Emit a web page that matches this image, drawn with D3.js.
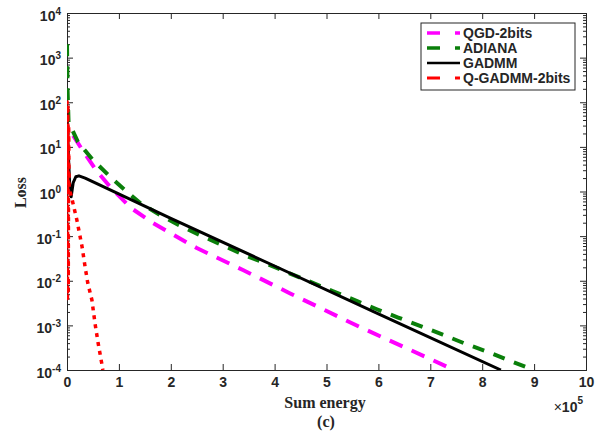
<!DOCTYPE html>
<html>
<head>
<meta charset="utf-8">
<script src="https://cdn.jsdelivr.net/npm/d3@7/dist/d3.min.js"></script>
<style>
  body { margin: 0; background: #fff; }
  svg text { fill: #262626; }
  .tick text { font-family: "Liberation Sans", Arial, sans-serif; font-weight: bold; font-size: 14px; }
  .axis path, .axis line { stroke: #262626; }
</style>
</head>
<body>
<div id="vis"></div>
<script>
// energy values (raw units, axis shows x1e5)
var qgdEnergy = [0.12e5, 0.27e5, 0.56e5, 0.85e5, 1.23e5, 1.66e5, 2.50e5, 3.39e5, 4.30e5, 5.65e5, 7.05e5, 7.46e5];
var qgdLoss = [17.8, 9.5, 3.0, 1.2, 0.43, 0.195, 0.054, 0.0174, 0.0052, 9.1e-4, 1.66e-4, 1.0e-4];

var adianaEnergy = [0, 0.01e5, 0.03e5, 0.21e5, 0.50e5, 0.83e5, 1.12e5, 1.41e5, 1.83e5, 2.22e5, 2.62e5, 3.05e5,
                    3.43e5, 3.85e5, 4.30e5, 5.13e5, 5.59e5, 5.97e5, 6.38e5, 6.80e5, 7.24e5, 7.67e5, 8.09e5, 8.54e5, 9.0e5];
var adianaLoss = [2000, 200, 36, 12.9, 5.1, 2.14, 1.07, 0.55, 0.28, 0.162, 0.098, 0.059,
                  0.037, 0.024, 0.0145, 0.0058, 0.0035, 0.0023, 0.0015, 9.8e-4, 6.2e-4, 3.9e-4, 2.6e-4, 1.6e-4, 1.0e-4];

var gadmmEnergy = [0, 0.02e5, 0.05e5, 0.08e5, 0.12e5, 0.17e5, 0.23e5, 0.35e5, 2e5, 4e5, 6e5, 8.36e5];
var gadmmLoss = [60, 10, 1.6, 0.76, 1.58, 2.14, 2.24, 2.0, 0.25, 0.0214, 0.00182, 1.0e-4];

var qgadmmEnergy = [0, 0.008e5, 0.016e5, 0.024e5, 0.032e5, 0.04e5, 0.10e5, 0.19e5, 0.29e5, 0.35e5, 0.40e5, 0.48e5, 0.54e5, 0.60e5, 0.67e5, 0.69e5];
var qgadmmLoss = [110, 0.004, 90, 0.006, 30, 1.2, 0.65, 0.23, 0.058, 0.02, 0.0089, 0.0037, 0.0011, 4.0e-4, 1.4e-4, 1.0e-4];

var seriesNames = ["QGD-2bits", "ADIANA", "GADMM", "Q-GADMM-2bits"];
var seriesColors = ["#ff00ff", "#0a7f0a", "#000000", "#ff0000"];

var xTicks = [0, 1e5, 2e5, 3e5, 4e5, 5e5, 6e5, 7e5, 8e5, 9e5, 10e5];
var yExponents = [-4, -3, -2, -1, 0, 1, 2, 3, 4];

var margin = {top: 13, right: 23, bottom: 67, left: 67},
    width = 609 - margin.left - margin.right,
    height = 437 - margin.top - margin.bottom;

var x = d3.scaleLinear().domain([0, 10e5]).range([0, width]);
var y = d3.scaleLog().domain([1e-4, 1e4]).range([height, 0]);

var svg = d3.select("div#vis").append("svg")
    .attr("width", 609)
    .attr("height", 437)
  .append("g")
    .attr("transform", "translate(" + margin.left + "," + margin.top + ")");

svg.append("defs").append("clipPath")
    .attr("id", "clip")
  .append("rect")
    .attr("width", width)
    .attr("height", height);

// minor log ticks
var minor = [];
for (var e = -4; e < 4; e++) {
  for (var m = 2; m < 10; m++) minor.push(m * Math.pow(10, e));
}
var majors = yExponents.map(function(d) { return Math.pow(10, d); });

svg.append("g").attr("class", "axis")
    .call(d3.axisLeft(y).tickValues(minor).tickSize(-3).tickFormat(""));
svg.append("g").attr("class", "axis")
    .attr("transform", "translate(" + width + ",0)")
    .call(d3.axisRight(y).tickValues(minor).tickSize(-3).tickFormat(""));
svg.append("g").attr("class", "axis")
    .attr("transform", "translate(" + width + ",0)")
    .call(d3.axisRight(y).tickValues(majors).tickSize(-6).tickFormat(""));

var yAxis = svg.append("g").attr("class", "axis")
    .call(d3.axisLeft(y).tickValues(majors).tickSize(-6).tickPadding(6).tickFormat(""));

yAxis.selectAll(".tick").each(function(d) {
  var t = d3.select(this).append("text")
      .attr("x", -6)
      .attr("dy", 7)
      .attr("text-anchor", "end");
  t.append("tspan").text("10");
  t.append("tspan").attr("dy", -6).style("font-size", "10px").text(Math.round(Math.log10(d)));
});

svg.append("g").attr("class", "axis")
    .attr("transform", "translate(0," + height + ")")
    .call(d3.axisBottom(x).tickValues(xTicks).tickSize(-6).tickPadding(7)
      .tickFormat(function(d) { return d / 1e5; }));
svg.append("g").attr("class", "axis")
    .call(d3.axisTop(x).tickValues(xTicks).tickSize(-6).tickFormat(""));

svg.selectAll(".axis .domain").attr("stroke-width", 1);

// lines
var line = d3.line()
    .x(function(d) { return x(d[0]); })
    .y(function(d) { return y(d[1]); });

var lineData = [
  {name: seriesNames[0], pts: d3.zip(qgdEnergy, qgdLoss), color: seriesColors[0], w: 4, dash: "14,10"},
  {name: seriesNames[1], pts: d3.zip(adianaEnergy, adianaLoss), color: seriesColors[1], w: 4, dash: "12,10"},
  {name: seriesNames[2], pts: d3.zip(gadmmEnergy, gadmmLoss), color: seriesColors[2], w: 3, dash: null},
  {name: seriesNames[3], pts: d3.zip(qgadmmEnergy, qgadmmLoss), color: seriesColors[3], w: 3.5, dash: "4,5"}
];

var plot = svg.append("g").attr("clip-path", "url(#clip)");
plot.selectAll("path.series")
    .data(lineData)
    .enter()
  .append("path")
    .attr("class", "series")
    .attr("d", function(d) { return line(d.pts); })
    .attr("fill", "none")
    .attr("stroke", function(d) { return d.color; })
    .attr("stroke-width", function(d) { return d.w; })
    .attr("stroke-dasharray", function(d) { return d.dash; })
    .attr("stroke-linejoin", "round");

// axis labels
svg.append("text")
    .attr("transform", "translate(" + (-41) + "," + (height / 2 + 1) + ") rotate(-90)")
    .attr("text-anchor", "middle")
    .style("font-family", "'Liberation Serif', 'Times New Roman', serif")
    .style("font-weight", "bold")
    .style("font-size", "16px")
    .text("Loss");

svg.append("text")
    .attr("x", 258)
    .attr("y", height + 38)
    .attr("text-anchor", "middle")
    .style("font-family", "'Liberation Serif', 'Times New Roman', serif")
    .style("font-weight", "bold")
    .style("font-size", "16px")
    .text("Sum energy");

svg.append("text")
    .attr("x", 259)
    .attr("y", height + 57)
    .attr("text-anchor", "middle")
    .style("font-family", "'Liberation Serif', 'Times New Roman', serif")
    .style("font-weight", "bold")
    .style("font-size", "16px")
    .text("(c)");

var mult = svg.append("text")
    .attr("x", width - 3)
    .attr("y", height + 42)
    .attr("text-anchor", "end")
    .style("font-family", "'Liberation Sans', Arial, sans-serif")
    .style("font-size", "14px");
mult.append("tspan").text("\u00d7");
mult.append("tspan").style("font-weight", "bold").text("10");
mult.append("tspan").attr("dy", -8).style("font-weight", "bold").style("font-size", "10px").text("5");

// legend
var legend = svg.append("g")
    .attr("transform", "translate(" + (421 - margin.left) + "," + (23 - margin.top) + ")");

legend.append("rect")
    .attr("width", 154)
    .attr("height", 67)
    .attr("fill", "#fff")
    .attr("stroke", "#262626")
    .attr("stroke-width", 1);

var items = legend.selectAll("g.item")
    .data(lineData)
    .enter()
  .append("g")
    .attr("class", "item")
    .attr("transform", function(d, i) { return "translate(0," + (10 + i * 15) + ")"; });

items.append("line")
    .attr("x1", 6).attr("x2", 39)
    .attr("stroke", function(d) { return d.color; })
    .attr("stroke-width", function(d) { return d.w - 0.5; })
    .attr("stroke-dasharray", function(d) { return d.dash ? "13,15" : null; });

items.append("text")
    .attr("x", 42)
    .attr("dy", 5)
    .style("font-family", "'Liberation Sans', Arial, sans-serif")
    .style("font-weight", "bold")
    .style("font-size", "14px")
    .text(function(d) { return d.name; });
</script>
</body>
</html>
